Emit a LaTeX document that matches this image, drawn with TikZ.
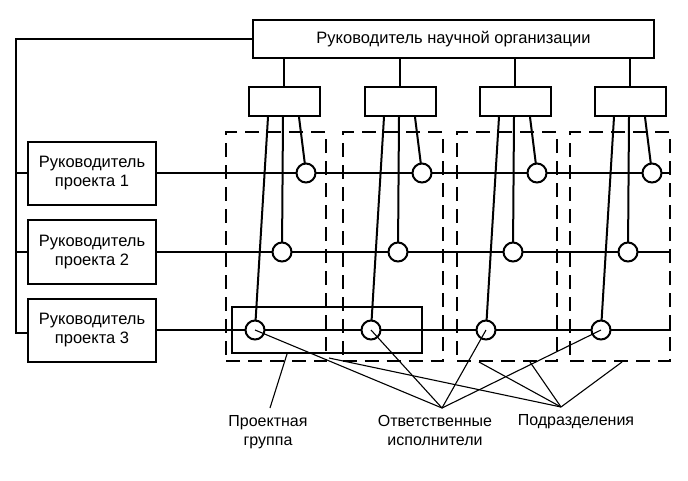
\documentclass[tikz,border=0pt]{standalone}
\usepackage{fontspec}
\setmainfont{Liberation Sans}
\usetikzlibrary{calc,backgrounds}
\begin{document}
\begin{tikzpicture}[x=1pt,y=-1pt,
  main/.style={line width=2pt},
  ptr/.style={line width=1.1pt},
  box/.style={draw,line width=2pt,inner sep=0pt,align=center,font=\fontsize{16.5}{19}\selectfont},
  subbox/.style={draw,line width=2pt,minimum width=71pt,minimum height=29pt,inner sep=0pt},
  circ/.style={circle,draw,fill=white,line width=2pt,minimum size=19pt,inner sep=0pt},
  dbox/.style={draw,line width=2pt,dash pattern=on 14pt off 8pt,minimum width=100pt,minimum height=229pt,inner sep=0pt},
  gbox/.style={draw,line width=2pt,minimum width=190pt,minimum height=46pt,inner sep=0pt},
  lab/.style={align=center,inner sep=0pt,font=\fontsize{16}{19}\selectfont}
]
\useasboundingbox (0,0) rectangle (688,480);
% main nodes
\node[box,minimum width=401pt,minimum height=38pt] (top) at (453.5,39) {Руководитель научной организации};
\node[box,minimum width=128pt,minimum height=63pt] (p1) at (92,173) {Руководитель\\проекта 1};
\node[box,minimum width=128pt,minimum height=64pt] (p2) at (92,252) {Руководитель\\проекта 2};
\node[box,minimum width=128pt,minimum height=63pt] (p3) at (92,330) {Руководитель\\проекта 3};
\foreach \i/\c in {1/284,2/400,3/515,4/630} {
  \node[subbox] (s\i) at (\c,101.5) {};
  \node[circ] (a\i) at (\c+22,173) {};
  \node[circ] (b\i) at (\c-2,252) {};
  \node[circ] (e\i) at (\c-29,330) {};
}
\node[dbox] (d1) at (276,246.5) {};
\node[dbox] (d2) at (392.5,246.5) {};
\node[dbox] (d3) at (507,246.5) {};
\node[dbox] (d4) at (620,246.5) {};
\node[gbox] (g) at (327,330) {};
% labels
\node[lab] (lg) at (268,432) {Проектная\\группа};
\node[lab] (lr) at (435,430) {Ответственные\\исполнители};
\node[lab] (ld) at (576,422) {Подразделения};
\coordinate (gp) at (270,408);
\coordinate (rp) at (442,408);
\coordinate (dp) at (561,407);
\coordinate (bus) at (16,333);
% connectors under the nodes
\begin{scope}[on background layer]
  \fill[white] (0,0) rectangle (688,480);
  \draw[main] (top.west) -| (bus) -- (bus -| p3.west);
  \draw[main] (p1.west) -- (p1.west -| bus);
  \draw[main] (p2.west) -- (p2.west -| bus);
  \draw[main] (p1.east) -- (p1.east -| d4.east);
  \draw[main] (p2.east) -- (p2.east -| d4.east);
  \draw[main] (p3.east) -- (p3.east -| d4.east);
  \foreach \i in {1,2,3,4} {
    \draw[main] (s\i.north |- top.south) -- (s\i.north);
    \draw[main] ($(s\i.south)+(-16,0)$) -- (e\i.center);
    \draw[main] ($(s\i.south)+(-1,0)$) -- (b\i.center);
    \draw[main] ($(s\i.south)+(15,0)$) -- (a\i.center);
  }
\end{scope}
% pointers
\draw[ptr] (gp) -- ($(g.south)+(-40,0)$);
\foreach \i in {1,2,3,4} { \draw[ptr] (e\i.center) -- (rp); }
\draw[ptr] (dp) -- ($(d1.south east)+(2,-4)$);
\draw[ptr] (dp) -- ($(d3.south west)+(23,0)$);
\draw[ptr] (dp) -- ($(d3.south)+(23,0)$);
\draw[ptr] (dp) -- ($(d4.south)+(2,0)$);
\end{tikzpicture}
\end{document}
